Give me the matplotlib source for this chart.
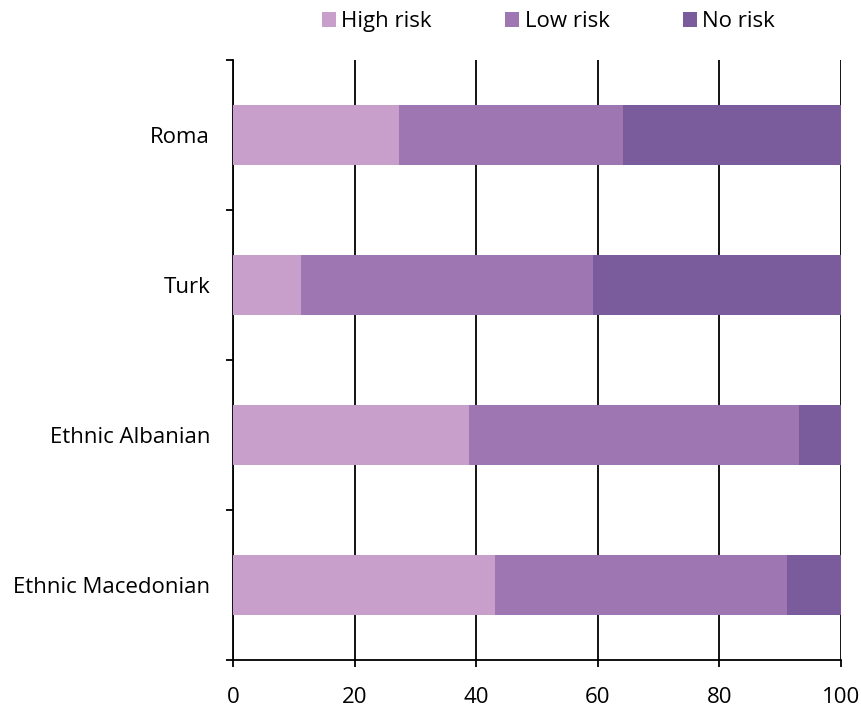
import matplotlib
matplotlib.use("Agg")
import matplotlib.pyplot as plt
import numpy as np

# Survey groups (bottom to top) and risk shares in percent
groups = ["Ethnic Macedonian", "Ethnic Albanian", "Turk", "Roma"]
high_risk = [43.1, 38.8, 11.2, 27.3]
low_risk = [48.0, 54.3, 48.0, 36.8]
no_risk = [8.9, 6.9, 40.8, 35.9]

series_names = ["High risk", "Low risk", "No risk"]
series_colors = ["#C79FCA", "#9E77B2", "#7A5C9C"]
x_ticks = [0, 20, 40, 60, 80, 100]

plt.rcParams["font.family"] = ["Open Sans", "DejaVu Sans"]
FS = 16.0

fig = plt.figure(figsize=(8.61, 7.11), dpi=100)
ax = fig.add_axes([0.2706, 0.0717, 0.7062, 0.8439])

y = np.arange(len(groups))
left = np.zeros(len(groups))
for vals, name, col in zip([high_risk, low_risk, no_risk], series_names, series_colors):
    ax.barh(y, vals, left=left, height=0.4, color=col, label=name, zorder=3)
    left = left + np.array(vals)

ax.set_xlim(0, 100)
ax.set_ylim(-0.5, len(groups) - 0.5)
ax.set_xticks(x_ticks)
ax.set_xticklabels([str(t) for t in x_ticks])
ax.xaxis.grid(True, color="black", linewidth=1.3, zorder=0)
ax.set_axisbelow(True)

# category labels centred, ticks at category boundaries
ax.set_yticks(y)
ax.set_yticklabels(groups)
ax.set_yticks(np.arange(-0.5, len(groups), 1.0), minor=True)
ax.tick_params(axis="y", which="major", length=0, pad=16.5, labelsize=FS)
ax.tick_params(axis="y", which="minor", length=5, width=1.3, direction="out")
ax.tick_params(axis="x", length=5, width=1.3, direction="out", pad=14.5, labelsize=FS)

for side in ["top", "right"]:
    ax.spines[side].set_visible(False)
for side in ["left", "bottom"]:
    ax.spines[side].set_linewidth(1.3)

fig.legend(loc="upper center", bbox_to_anchor=(0.637, 1.012), ncol=3, frameon=False,
           fontsize=FS, handlelength=0.62, handleheight=0.62, handletextpad=0.25,
           columnspacing=3.3)

fig.savefig("out.png", dpi=100)
